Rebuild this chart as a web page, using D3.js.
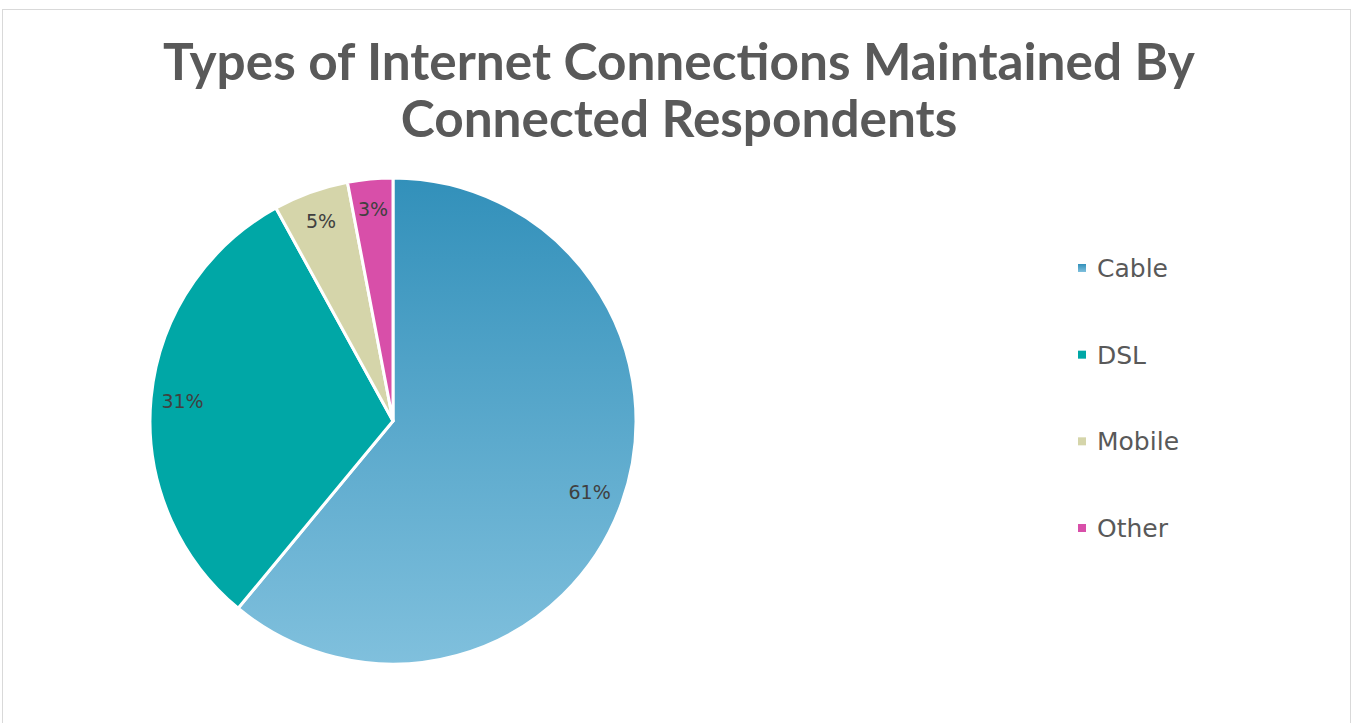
<!DOCTYPE html>
<html>
<head>
<meta charset="utf-8">
<script src="https://cdn.jsdelivr.net/npm/d3@7"></script>
<style>
  html, body { margin: 0; padding: 0; background: #fff; }
  svg { display: block; }
</style>
</head>
<body>
<svg id="chart" width="1353" height="723"></svg>
<script>
const categories = ["Cable", "DSL", "Mobile", "Other"];
const values = [61, 31, 5, 3];
const valueLabels = ["61%", "31%", "5%", "3%"];
const titleLines = ["Types of Internet Connections Maintained By", "Connected Respondents"];

const W = 1353, H = 723;
const svg = d3.select("#chart");
const titleFont = "'Lato', 'Open Sans', 'DejaVu Sans', sans-serif";
const bodyFont = "'DejaVu Sans', 'Open Sans', sans-serif";

// outer frame
svg.append("rect")
  .attr("x", 2.5).attr("y", 9.5)
  .attr("width", 1348).attr("height", 730)
  .attr("fill", "#fff").attr("stroke", "#d9d9d9").attr("stroke-width", 1);

const cx = 393, cy = 421, r = 243;

// gradient used for the largest slice (in the pie group's coordinates)
const defs = svg.append("defs");
const grad = defs.append("linearGradient")
  .attr("id", "cableGrad")
  .attr("gradientUnits", "userSpaceOnUse")
  .attr("x1", 0).attr("y1", -r).attr("x2", 0).attr("y2", r);
grad.append("stop").attr("offset", "0%").attr("stop-color", "#3290ba");
grad.append("stop").attr("offset", "100%").attr("stop-color", "#80c0dd");

const legGrad = defs.append("linearGradient")
  .attr("id", "cableLegGrad").attr("x1", 0).attr("y1", 0).attr("x2", 0).attr("y2", 1);
legGrad.append("stop").attr("offset", "0%").attr("stop-color", "#3290ba");
legGrad.append("stop").attr("offset", "100%").attr("stop-color", "#80c0dd");

const color = d3.scaleOrdinal()
  .domain(categories)
  .range(["url(#cableGrad)", "#00a7a6", "#d5d5aa", "#d84fa9"]);
const legendColor = d3.scaleOrdinal()
  .domain(categories)
  .range(["url(#cableLegGrad)", "#00a7a6", "#d5d5aa", "#d84fa9"]);

// title
const title = svg.append("g");
titleLines.forEach((t, i) => {
  title.append("text")
    .attr("x", 679).attr("y", 80 + i * 57)
    .attr("text-anchor", "middle")
    .attr("font-family", titleFont)
    .attr("font-weight", 700)
    .attr("font-size", 46)
    .attr("fill", "#595959")
    .text(t);
});
// fit first line to its width, apply the same size to both lines
const t0 = title.select("text").node();
const w0 = t0.getComputedTextLength();
const fs = 46 * 1032 / w0;
title.selectAll("text").attr("font-size", fs);

// pie
const pie = d3.pie().sort(null).value(d => d.value);
const data = categories.map((c, i) => ({ name: c, value: values[i], label: valueLabels[i] }));
const arcs = pie(data);
const arc = d3.arc().innerRadius(0).outerRadius(r);

const g = svg.append("g").attr("transform", `translate(${cx},${cy})`);
g.selectAll("path.slice")
  .data(arcs)
  .join("path")
  .attr("class", "slice")
  .attr("d", arc)
  .attr("fill", d => color(d.data.name))
  .attr("stroke", "#fff")
  .attr("stroke-width", 3)
  .attr("stroke-linejoin", "round");

// data labels placed along each slice's bisector
const labelRadius = [0.86, 0.87, 0.875, 0.875];
g.selectAll("text.lbl")
  .data(arcs)
  .join("text")
  .attr("class", "lbl")
  .attr("x", (d, i) => Math.sin((d.startAngle + d.endAngle) / 2) * r * labelRadius[i])
  .attr("y", (d, i) => -Math.cos((d.startAngle + d.endAngle) / 2) * r * labelRadius[i])
  .attr("dy", "0.36em")
  .attr("text-anchor", "middle")
  .attr("font-family", bodyFont)
  .attr("font-size", 19)
  .attr("fill", "#404040")
  .text(d => d.data.label);

// legend
const legY = d3.scalePoint().domain(categories).range([268, 528]);
const leg = svg.append("g");
const items = leg.selectAll("g").data(categories).join("g")
  .attr("transform", d => `translate(1078,${legY(d)})`);
items.append("rect")
  .attr("x", 0).attr("y", -4).attr("width", 8).attr("height", 8)
  .attr("fill", d => legendColor(d));
items.append("text")
  .attr("x", 19).attr("y", 0).attr("dy", "0.36em")
  .attr("font-family", bodyFont)
  .attr("font-size", 25)
  .attr("fill", "#595959")
  .text(d => d);
</script>
</body>
</html>
